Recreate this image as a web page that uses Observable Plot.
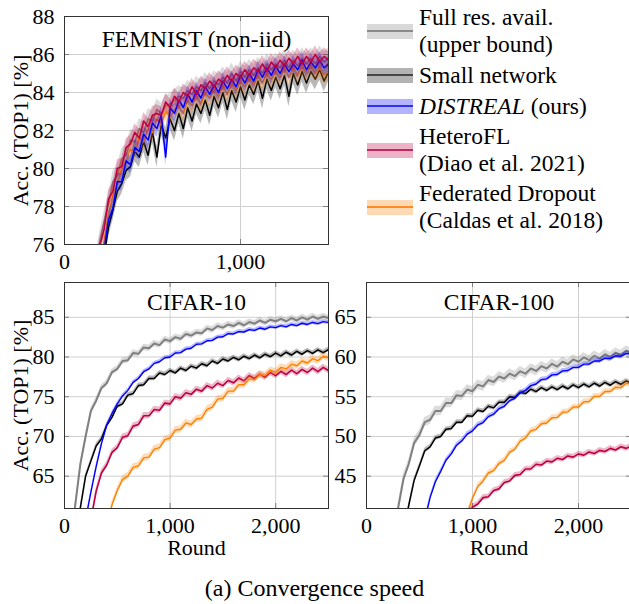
<!DOCTYPE html>
<html><head><meta charset="utf-8">
<script src="https://cdn.jsdelivr.net/npm/d3@7"></script>
<script src="https://cdn.jsdelivr.net/npm/@observablehq/plot@0.6"></script>
<style>
html,body{margin:0;padding:0;background:#fff;}
body{width:629px;height:604px;overflow:hidden;position:relative;font-family:"Liberation Serif","Times New Roman",serif;color:#000;}
.panel{position:absolute;}
.panel svg{max-width:none !important;display:block;}
.entry{position:absolute;left:367px;font-size:23.5px;line-height:27px;white-space:nowrap;}
.sw{position:absolute;left:0;width:46px;height:15px;}
.sw i{position:absolute;left:0;right:0;top:6.5px;height:2px;display:block;}
.txt{position:absolute;left:52px;top:0;}
#caption{position:absolute;left:0;width:629px;top:573px;text-align:center;font-size:24px;line-height:30px;}
</style></head><body>
<div id="p1" class="panel" style="left:0;top:0;width:340px"></div>
<div id="p2" class="panel" style="left:0;top:270px;width:340px"></div>
<div id="p3" class="panel" style="left:330px;top:270px;width:311px"></div>
<div id="legend"></div>
<div id="caption">(a) Convergence speed</div>
<script>
// ---------- series meta ----------
const seriesNames = ["Full res. avail. (upper bound)", "Small network", "DISTREAL (ours)", "HeteroFL (Diao et al. 2021)", "Federated Dropout (Caldas et al. 2018)"];
const seriesColors = ["#808080", "#000000", "#0000ff", "#bf0040", "#ff8000"];
const legendLines = [["Full res. avail.", "(upper bound)"], ["Small network"], ["DISTREAL", " (ours)"], ["HeteroFL", "(Diao et al. 2021)"], ["Federated Dropout", "(Caldas et al. 2018)"]];

// ---------- FEMNIST (non-iid) ----------
const femRounds = d3.range(175, 1501, 25);
const femFull = [74.8,76.1,77.2,78.1,79.3,79.6,80.5,80.7,81.5,81.4,82.1,81.9,82.6,82.5,83.1,82.9,83.3,83.4,83.6,83.8,83.7,84.1,83.9,84.3,84.1,84.5,84.2,84.6,84.4,84.8,84.5,85.0,84.6,85.1,84.8,85.2,84.9,85.3,85.0,85.5,85.2,85.5,85.3,85.7,85.3,85.7,85.4,85.8,85.5,85.8,85.5,85.9,85.6,85.8];
const femSmall = [72.0,73.9,75.4,76.9,77.8,78.8,79.2,79.9,80.1,80.9,80.6,81.4,80.7,81.9,80.6,82.3,81.6,82.6,82.0,82.9,82.1,83.2,82.5,83.4,82.9,83.6,82.8,83.8,83.2,84.0,83.1,84.1,83.5,84.3,83.6,84.4,83.9,84.6,83.7,84.7,84.1,84.8,84.2,84.9,83.8,85.0,84.4,85.1,84.5,85.1,84.7,85.2,84.6,85.1];
const femDistreal = [72.5,74.3,75.7,77.3,77.9,79.3,79.3,80.4,80.2,81.1,80.9,81.8,81.5,82.4,82.1,82.8,80.6,83.2,82.9,83.6,83.2,83.9,83.5,84.1,83.7,84.3,83.9,84.4,84.0,84.6,84.2,84.7,84.3,84.9,84.5,85.0,84.6,85.2,84.8,85.3,84.9,85.4,85.0,85.5,85.1,85.5,85.2,85.7,85.2,85.6,85.3,85.7,85.3,85.5];
const femHetero = [74.6,75.9,76.8,78.4,78.8,80.0,80.1,81.1,81.3,81.9,81.6,82.5,82.2,82.8,82.9,82.8,83.5,83.2,83.8,83.5,84.0,83.8,84.3,83.9,84.4,84.2,84.6,84.3,84.7,84.5,84.9,84.6,85.0,84.8,85.2,84.9,85.3,85.1,85.5,85.1,85.6,85.3,85.7,85.4,85.8,85.5,85.9,85.5,85.9,85.6,86.0,85.6,85.9,85.7];
const femDropout = [73.0,74.8,76.2,77.6,78.6,79.2,80.0,80.4,81.0,80.9,81.6,81.4,82.1,81.9,82.6,82.3,83.0,82.7,83.1,83.3,82.9,83.6,83.3,83.9,83.4,84.0,83.7,84.2,83.8,84.4,83.9,84.5,84.1,84.6,84.3,84.8,84.4,84.9,84.5,85.0,84.7,85.1,84.8,85.3,84.8,85.3,84.9,85.4,85.0,85.4,85.0,85.3,84.9,85.1];
const femStd = [0.55, 0.55, 0.45, 0.45, 0.45];

// ---------- CIFAR-10 ----------
const c10Rounds = d3.range(0, 2501, 50);
const c10Full = [null,54.0,61.2,66.5,70.0,73.2,74.5,76.1,76.7,78.1,78.5,79.5,79.6,80.5,80.4,81.2,81.1,81.7,81.5,82.2,82.0,82.5,82.3,82.9,82.7,83.1,83.0,83.6,83.4,83.9,83.7,84.1,83.9,84.3,84.0,84.4,84.2,84.6,84.3,84.7,84.5,84.8,84.5,84.9,84.6,85.0,84.7,85.1,84.8,85.1,84.9];
const c10Small = [null,null,54.0,61.0,65.0,66.9,68.8,69.7,71.4,72.4,73.8,74.1,75.2,75.4,76.4,76.5,77.3,77.3,78.0,77.8,78.3,78.0,78.6,78.3,78.85,78.6,79.15,78.9,79.5,79.2,79.75,79.5,79.95,79.65,80.1,79.8,80.25,79.9,80.35,80.05,80.5,80.15,80.6,80.25,80.7,80.35,80.8,80.45,80.9,80.55,80.95];
const c10Distreal = [null,null,null,52.0,59.5,63.0,66.2,69.1,71.4,72.9,74.1,75.1,75.8,76.8,77.3,78.15,78.5,79.2,79.4,79.9,80.0,80.5,80.55,81.0,81.1,81.6,81.65,82.05,82.1,82.5,82.55,82.95,82.9,83.2,83.15,83.45,83.35,83.65,83.5,83.8,83.7,83.95,83.8,84.1,83.95,84.25,84.1,84.35,84.2,84.45,84.35];
const c10Hetero = [null,null,null,null,54.0,59.5,63.1,65.4,66.4,68.0,68.6,69.9,70.1,71.3,71.5,72.6,72.6,73.4,73.3,74.2,74.1,75.0,74.8,75.5,75.3,75.95,75.7,76.4,76.1,76.7,76.4,77.05,76.75,77.35,77.0,77.65,77.3,77.85,77.45,78.05,77.65,78.2,77.8,78.35,77.9,78.45,78.05,78.6,78.15,78.7,78.3];
const c10Dropout = [null,null,null,null,null,null,null,54.0,58.5,61.4,63.2,64.6,65.0,66.1,66.3,67.3,67.4,68.4,68.6,69.6,69.8,70.8,70.9,71.7,71.5,72.2,72.3,73.4,73.7,74.7,74.8,75.7,75.7,76.5,76.5,77.25,77.15,77.8,77.65,78.3,78.1,78.7,78.5,79.1,78.9,79.5,79.25,79.8,79.55,80.1,79.9];
const c10Std = [0.4, 0.3, 0.25, 0.4, 0.45];

// ---------- CIFAR-100 ----------
const c100Rounds = d3.range(0, 2501, 50);
const c100Full = [null,null,null,null,null,37.0,41.1,44.7,46.6,49.2,50.2,51.8,52.1,53.2,53.2,54.2,54.2,55.2,55.1,55.9,55.7,56.5,56.3,57.1,56.85,57.55,57.3,57.9,57.6,58.2,57.9,58.55,58.25,58.85,58.55,59.15,58.8,59.4,59.1,59.7,59.4,59.95,59.6,60.15,59.8,60.35,60.0,60.55,60.25,60.8,60.5];
const c100Small = [null,null,null,null,null,null,null,38.0,41.4,44.5,46.3,48.2,48.7,49.8,50.0,50.9,51.0,51.8,51.8,52.6,52.55,53.3,53.15,53.8,53.6,54.3,54.3,55.0,54.9,55.55,55.4,55.95,55.65,56.15,55.8,56.25,55.9,56.35,56.0,56.5,56.15,56.6,56.25,56.7,56.35,56.8,56.45,56.9,56.55,57.0,56.7];
const c100Distreal = [null,null,null,null,null,null,null,null,null,null,null,39.5,42.3,44.3,45.6,47.0,47.8,48.9,49.45,50.3,50.7,51.45,51.75,52.5,52.8,53.5,53.8,54.5,54.8,55.5,55.8,56.4,56.6,57.15,57.25,57.75,57.8,58.25,58.3,58.7,58.7,59.1,59.1,59.5,59.5,59.85,59.8,60.15,60.1,60.45,60.4];
const c100Hetero = [null,null,null,null,null,null,null,null,null,null,null,null,null,null,null,null,null,null,null,40.3,41.1,41.5,42.3,42.4,43.2,43.4,44.2,44.4,45.1,45.2,45.9,45.9,46.5,46.4,46.9,46.8,47.25,47.1,47.55,47.4,47.8,47.65,48.05,47.85,48.25,48.1,48.5,48.3,48.7,48.5,48.8];
const c100Dropout = [null,null,null,null,null,null,null,null,null,null,null,null,null,null,null,null,null,null,null,40.3,42.2,43.7,44.4,45.4,45.7,46.6,47.0,48.0,48.4,49.4,49.8,50.7,50.9,51.6,51.7,52.35,52.4,53.05,53.1,53.7,53.7,54.35,54.4,55.05,55.05,55.65,55.65,56.2,56.15,56.7,56.6];
const c100Std = [0.6, 0.3, 0.3, 0.35, 0.35];

// ---------- axes ----------
const femYTicks = [76, 78, 80, 82, 84, 86, 88];
const femXTicks = [0, 1000];
const c10YTicks = [65, 70, 75, 80, 85];
const c100YTicks = [45, 50, 55, 60, 65];
const cXTicks = [0, 1000, 2000];

const FONT = "Liberation Serif, Times New Roman, serif";

function makePanel(o) {
  const fw = o.width - o.ml - o.mr;
  const fh = o.height - o.mt - o.mb;
  const series = o.values.map((v, i) => ({name: seriesNames[i], color: seriesColors[i], std: o.std[i], values: v, sw: o.sw[i]}));
  const order = o.order.map(i => series[i]);
  const marks = [
    Plot.ruleY(o.yTicks, {y: d => d, stroke: "#cfcfcf", strokeWidth: 1}),
    Plot.ruleX(o.xTicks, {x: d => d, stroke: "#cfcfcf", strokeWidth: 1}),
    Plot.tickY(o.yTicks, {y: d => d, stroke: "#808080", insetRight: fw - 5}),
    Plot.tickY(o.yTicks, {y: d => d, stroke: "#808080", insetLeft: fw - 5}),
    Plot.tickX(o.xTicks, {x: d => d, stroke: "#808080", insetTop: fh - 5}),
    Plot.tickX(o.xTicks, {x: d => d, stroke: "#808080", insetBottom: fh - 5})
  ];
  for (const s of order) {
    const rows = o.rounds.map((r, i) => ({round: r, v: s.values[i]})).filter(d => d.v != null);
    marks.push(Plot.areaY(rows, {x: "round", y1: d => d.v - s.std, y2: d => d.v + s.std, fill: s.color, fillOpacity: 0.28, clip: true}));
    marks.push(Plot.line(rows, {x: "round", y: "v", stroke: s.color, strokeWidth: s.sw, clip: true}));
  }
  marks.push(Plot.frame({stroke: "#333333", strokeWidth: 1}));
  marks.push(Plot.text([o.title], {frameAnchor: "top", dy: o.titleDy, fontSize: 23.5, lineAnchor: "middle", textAnchor: "middle", fill: "#000"}));
  return Plot.plot({
    width: o.width, height: o.height,
    marginLeft: o.ml, marginRight: o.mr, marginTop: o.mt, marginBottom: o.mb,
    style: {fontFamily: FONT, fontSize: "22px", background: "transparent", color: "#000", overflow: "visible", maxWidth: "none"},
    x: {domain: o.xDomain, ticks: o.xTicks, tickFormat: d3.format(","), tickSize: 0, tickPadding: 9, label: o.xLabel, labelAnchor: "center", labelOffset: 46, labelArrow: "none"},
    y: {domain: o.yDomain, ticks: o.yTicks, tickSize: 0, tickPadding: 10, label: o.yLabel, labelAnchor: "center", labelOffset: 52, labelArrow: "none"},
    marks
  });
}

document.getElementById("p1").append(makePanel({
  width: 340, height: 280, ml: 64, mr: 12, mt: 16, mb: 36,
  rounds: femRounds, values: [femFull, femSmall, femDistreal, femHetero, femDropout], std: femStd,
  sw: [1.6, 1.5, 1.5, 1.6, 1.5],
  order: [0, 1, 4, 2, 3],
  xDomain: [0, 1500], yDomain: [76, 88], xTicks: femXTicks, yTicks: femYTicks,
  title: "FEMNIST (non-iid)", titleDy: 23, xLabel: null, yLabel: "Acc. (TOP1) [%]"
}));
document.getElementById("p2").append(makePanel({
  width: 340, height: 300, ml: 64, mr: 12, mt: 12, mb: 62,
  rounds: c10Rounds, values: [c10Full, c10Small, c10Distreal, c10Hetero, c10Dropout], std: c10Std,
  sw: [2, 1.5, 1.4, 1.6, 1.4],
  order: [0, 1, 2, 3, 4],
  xDomain: [0, 2500], yDomain: [60.93, 89.38], xTicks: cXTicks, yTicks: c10YTicks,
  title: "CIFAR-10", titleDy: 20, xLabel: "Round", yLabel: "Acc. (TOP1) [%]"
}));
document.getElementById("p3").append(makePanel({
  width: 311, height: 300, ml: 36, mr: 10, mt: 12, mb: 62,
  rounds: c100Rounds, values: [c100Full, c100Small, c100Distreal, c100Hetero, c100Dropout], std: c100Std,
  sw: [2, 1.5, 1.4, 1.6, 1.4],
  order: [0, 1, 2, 3, 4],
  xDomain: [0, 2500], yDomain: [40.93, 69.38], xTicks: cXTicks, yTicks: c100YTicks,
  title: "CIFAR-100", titleDy: 20, xLabel: "Round", yLabel: null
}));

// ---------- legend ----------
const legendCenters = [31, 75, 106, 150, 207];
const legendLineColors = ["#8a8a8a", "#474747", "#3030f0", "#c02a60", "#ff8c20"];
const legend = document.getElementById("legend");
legendLines.forEach((lines, i) => {
  const n = (i === 2) ? 1 : lines.length;
  const top = legendCenters[i] - n * 27 / 2;
  const e = document.createElement("div");
  e.className = "entry";
  e.style.top = top + "px";
  const sw = document.createElement("div");
  sw.className = "sw";
  sw.style.top = (legendCenters[i] - top - 7.5) + "px";
  sw.style.background = d3.interpolateRgb("#ffffff", seriesColors[i])(0.3);
  const ln = document.createElement("i");
  ln.style.background = legendLineColors[i];
  sw.append(ln);
  e.append(sw);
  const t = document.createElement("div");
  t.className = "txt";
  if (i === 2) {
    const em = document.createElement("em");
    em.textContent = lines[0];
    t.append(em, document.createTextNode(lines[1]));
  } else {
    t.innerHTML = lines.map(s => s.replace(/&/g, "&amp;")).join("<br>");
  }
  e.append(t);
  legend.append(e);
});
</script>
</body></html>
